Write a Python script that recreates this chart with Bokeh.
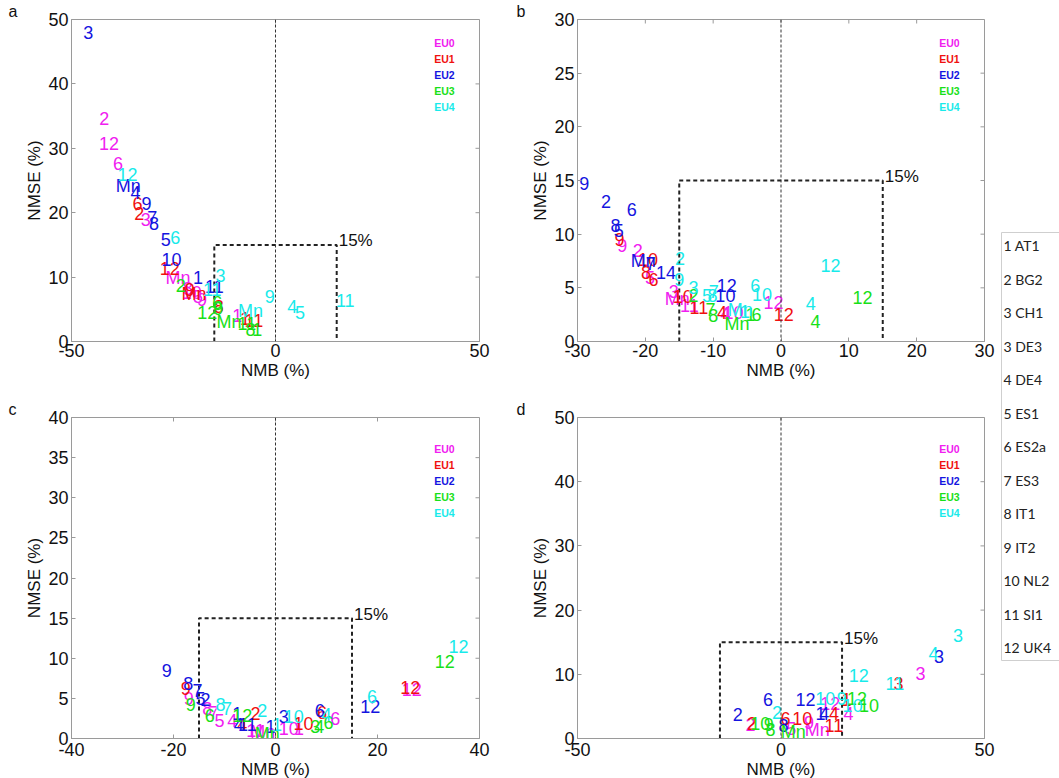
from bokeh.plotting import figure
from bokeh.models import ColumnDataSource, Range1d, FixedTicker, Span
from bokeh.layouts import row, column
from bokeh.embed import file_html
from bokeh.resources import INLINE
from bokeh.core.properties import value

MODELS = ["EU0", "EU1", "EU2", "EU3", "EU4"]
COLORS = ["#f020f0", "#f01010", "#1414e0", "#18e018", "#18eaea"]
STATIONS = ["1 AT1", "2 BG2", "3 CH1", "3 DE3", "4 DE4", "5 ES1", "6 ES2a",
            "7 ES3", "8 IT1", "9 IT2", "10 NL2", "11 SI1", "12 UK4"]
THRESH = 15

# ---------------- panel a ----------------
a_lab = ["2", "12", "6", "3", "Mn", "10", "8", "5", "9", "1",
         "6", "2", "12", "9", "Mn", "8", "1", "11",
         "3", "Mn", "4", "9", "7", "8", "5", "10", "1", "11",
         "2", "9", "6", "12", "Mn", "11", "8", "1",
         "12", "6", "11", "3", "Mn", "9", "4", "5", "11"]
a_mod = [0]*10 + [1]*8 + [2]*10 + [3]*8 + [4]*9
a_x = [-42.0, -40.8, -38.6, -31.8, -23.9, -20.5, -21.5, -19.0, -18.0, -9.4,
       -33.8, -33.4, -25.9, -21.0, -20.0, -13.9, -7.5, -5.3,
       -45.9, -36.1, -34.3, -31.6, -30.2, -29.8, -26.9, -25.5, -19.0, -15.0,
       -23.2, -14.0, -14.3, -16.7, -11.4, -7.0, -6.1, -4.5,
       -36.3, -24.6, -15.5, -13.5, -6.1, -1.4, 4.1, 6.0, 17.1]
a_y = [34.6, 30.7, 27.7, 19.0, 9.9, 7.6, 8.3, 7.0, 6.5, 4.0,
       21.4, 19.8, 11.3, 8.0, 7.4, 5.5, 3.5, 3.2,
       48.0, 24.2, 23.2, 21.5, 19.3, 18.4, 15.8, 12.8, 10.0, 8.5,
       8.7, 5.2, 6.1, 4.5, 3.0, 2.8, 1.9, 1.9,
       25.9, 16.1, 8.1, 10.2, 4.8, 6.95, 5.5, 4.5, 6.3]

# ---------------- panel b ----------------
b_lab = ["9", "2", "5", "3", "Mn", "11", "4", "10", "12",
         "9", "10", "8", "6", "10", "11", "4", "12",
         "9", "2", "6", "8", "5", "Mn", "7", "1", "4", "12", "10",
         "2", "7", "8", "Mn", "1", "6", "4", "12",
         "2", "9", "3", "5", "8", "7", "Mn", "1", "6", "10", "4", "12"]
b_mod = [0]*9 + [1]*8 + [2]*11 + [3]*8 + [4]*12
b_x = [-23.4, -21.1, -19.3, -15.8, -15.3, -13.5, -8.2, -7.0, -1.1,
       -23.8, -19.6, -19.9, -18.8, -14.5, -12.1, -8.7, 0.4,
       -29.0, -25.8, -22.0, -24.4, -23.9, -20.3, -19.2, -17.7, -16.2, -8.0, -8.2,
       -12.9, -10.4, -10.0, -6.5, -4.5, -3.6, 5.1, 12.0,
       -14.9, -15.0, -12.9, -10.9, -10.1, -9.9, -6.0, -5.3, -3.8, -2.8, 4.4, 7.3]
b_y = [8.9, 8.5, 6.0, 4.7, 3.95, 3.4, 2.6, 2.7, 3.6,
       9.5, 7.6, 6.4, 5.8, 4.2, 3.2, 2.7, 2.55,
       14.7, 13.0, 12.3, 10.8, 10.3, 7.5, 7.3, 6.4, 6.4, 5.2, 4.3,
       4.3, 3.0, 2.4, 1.6, 2.55, 2.55, 1.9, 4.1,
       7.7, 5.8, 5.0, 4.3, 4.3, 4.7, 2.9, 2.8, 5.2, 4.4, 3.5, 7.1]

# ---------------- panel c ----------------
c_lab = ["9", "8", "7", "5", "4", "11", "Mn", "10", "1", "6", "12",
         "9", "4", "2", "10", "6", "12",
         "9", "8", "7", "5", "2", "1", "4", "11", "1", "3", "6", "12",
         "9", "6", "12", "Mn", "3", "4", "6", "12",
         "8", "7", "2", "1", "10", "4", "6", "12"]
c_mod = [0]*11 + [1]*6 + [2]*12 + [3]*8 + [4]*8
c_x = [-17.0, -13.4, -12.1, -11.0, -8.5, -3.9, -2.5, 2.6, 4.6, 11.7, 26.7,
       -17.6, -6.5, -3.9, 5.5, 9.1, 26.4,
       -21.3, -17.1, -15.3, -14.7, -13.7, -7.5, -7.2, -5.5, -1.0, 1.6, 8.7, 18.6,
       -16.6, -12.9, -6.5, -1.6, 7.8, 8.6, 10.4, 33.2,
       -10.8, -9.5, -2.6, 0.3, 3.6, 10.0, 18.9, 35.9]
c_y = [5.0, 3.7, 3.3, 2.3, 2.2, 1.0, 0.8, 1.2, 1.2, 2.5, 6.1,
       6.2, 1.8, 3.1, 1.9, 3.2, 6.4,
       8.5, 6.9, 6.0, 5.0, 4.9, 3.1, 1.8, 1.7, 1.5, 2.7, 3.5, 3.95,
       4.2, 2.9, 2.9, 0.6, 1.45, 1.5, 2.0, 9.6,
       4.2, 3.7, 3.5, 1.7, 2.7, 3.0, 5.2, 11.5]

# ---------------- panel d ----------------
d_lab = ["2", "5", "9", "Mn", "12", "4", "3",
         "2", "6", "10", "4", "11", "1", "3",
         "2", "6", "8", "12", "1", "4", "3",
         "10", "9", "8", "Mn", "12", "10",
         "2", "10", "9", "10", "12", "11", "4", "3"]
d_mod = [0]*7 + [1]*7 + [2]*7 + [3]*6 + [4]*8
d_x = [-7.5, 2.5, 6.9, 8.9, 12.1, 16.6, 34.3,
       -7.1, 1.1, 5.2, 13.0, 13.0, 16.1, 28.9,
       -10.6, -3.2, 0.6, 6.0, 9.7, 10.6, 38.8,
       -5.1, -3.0, -2.6, 3.0, 18.7, 21.6,
       -1.0, 10.9, 14.9, 17.6, 19.1, 28.0, 37.5, 43.5]
d_y = [2.2, 1.5, 2.5, 1.3, 5.4, 3.9, 10.2,
       2.4, 3.1, 3.1, 3.9, 2.1, 6.0, 8.5,
       3.7, 6.1, 2.0, 6.1, 3.9, 3.9, 12.8,
       2.3, 2.2, 1.4, 1.0, 6.2, 5.2,
       4.0, 6.2, 6.3, 5.2, 9.8, 8.5, 13.3, 16.1]

a_xticks, a_yticks = [-50, 0, 50], [0, 10, 20, 30, 40, 50]
b_xticks, b_yticks = [-30, -20, -10, 0, 10, 20, 30], [0, 5, 10, 15, 20, 25, 30]
c_xticks, c_yticks = [-40, -20, 0, 20, 40], [0, 5, 10, 15, 20, 25, 30, 35, 40]
d_xticks, d_yticks = [-50, 0, 50], [0, 10, 20, 30, 40, 50]

FONT = "Liberation Sans"
AX_COL = "#9a9a9a"


def make_panel(letter, lab, mod, xs, ys, xt, yt, fw, fh, bl, br, bt, bb, top_row):
    xr = (xt[0], xt[-1])
    yr = (yt[0], yt[-1])
    p = figure(frame_width=fw, frame_height=fh,
               x_range=Range1d(*xr), y_range=Range1d(*yr),
               output_backend="svg", toolbar_location=None,
               min_border_left=bl, min_border_right=br,
               min_border_top=bt, min_border_bottom=bb,
               background_fill_color="white", border_fill_color="white")
    p.xgrid.visible = False
    p.ygrid.visible = False
    p.outline_line_color = AX_COL
    for ax, ticks in ((p.xaxis[0], xt), (p.yaxis[0], yt)):
        ax.ticker = FixedTicker(ticks=ticks)
        ax.major_label_overrides = {t: str(t) for t in ticks}
        ax.major_tick_in = 4
        ax.major_tick_out = 0
        ax.minor_tick_line_color = None
        ax.axis_line_color = AX_COL
        ax.major_tick_line_color = AX_COL
        ax.major_label_text_font = FONT
        ax.major_label_text_font_size = "18px"
        ax.major_label_text_color = "#111111"
        ax.axis_label_text_font = FONT
        ax.axis_label_text_font_size = "17px"
        ax.axis_label_text_font_style = "normal"
        ax.axis_label_text_color = "#111111"
        ax.axis_label_standoff = 1
    p.xaxis.axis_label = "NMB (%)"
    p.yaxis.axis_label = "NMSE (%)"
    p.xaxis.major_label_standoff = 2 if top_row else 4
    p.yaxis.major_label_standoff = 3

    dx = (xr[1] - xr[0]) / fw
    dy = (yr[1] - yr[0]) / fh
    # inward tick marks on the top and right edges of the box
    p.segment(x0=xt, y0=[yr[1]] * len(xt), x1=xt, y1=[yr[1] - 4 * dy] * len(xt),
              line_color=AX_COL, line_width=1)
    p.segment(x0=[xr[1]] * len(yt), y0=yt, x1=[xr[1] - 4 * dx] * len(yt), y1=yt,
              line_color=AX_COL, line_width=1)

    # zero line and 15 % box
    p.add_layout(Span(location=0, dimension="height", line_color="#333333",
                      line_dash="3 2", line_width=1))
    p.line([-THRESH, -THRESH, THRESH, THRESH], [0, THRESH, THRESH, 0],
           line_color="#222222", line_dash="4 3", line_width=2)
    p.text(x=[THRESH], y=[THRESH], text=["15%"], text_font=value(FONT),
           text_font_size="17px", text_color="#111111", text_align="left",
           text_baseline="middle", x_offset=2, y_offset=-4)

    # data labels
    src = ColumnDataSource(dict(x=xs, y=ys, lab=lab,
                                color=[COLORS[m] for m in mod]))
    p.text(x="x", y="y", text="lab", source=src, text_color="color",
           text_font=value(FONT), text_font_size="18px",
           text_align="center", text_baseline="middle")

    # model legend
    off = 23 if top_row else 31
    lx = [xr[1] - 35 * dx] * len(MODELS)
    ly = [yr[1] - (off + 16 * i) * dy for i in range(len(MODELS))]
    p.text(x=lx, y=ly, text=MODELS, text_color=COLORS, text_font=value(FONT),
           text_font_size="10.5px", text_font_style="bold",
           text_align="center", text_baseline="middle")

    # panel letter as a left-aligned title shifted into the left border
    p.title.text = letter
    p.title.align = "left"
    p.title.offset = -(bl - 8)
    p.title.text_font = FONT
    p.title.text_font_size = "16px"
    p.title.text_font_style = "normal"
    p.title.text_color = "#111111"
    p.title.standoff = 0
    return p


pa = make_panel("a", a_lab, a_mod, a_x, a_y, a_xticks, a_yticks, 408, 322, 71, 29, 19, 57, True)
pb = make_panel("b", b_lab, b_mod, b_x, b_y, b_xticks, b_yticks, 407, 322, 69, 14, 19, 57, True)
pc = make_panel("c", c_lab, c_mod, c_x, c_y, c_xticks, c_yticks, 408, 321, 71, 29, 16, 35, False)
pd = make_panel("d", d_lab, d_mod, d_x, d_y, d_xticks, d_yticks, 407, 321, 69, 14, 16, 35, False)

# station key
LH = 775
lf = figure(frame_width=61, frame_height=LH, x_range=Range1d(0, 61),
            y_range=Range1d(LH, 0), output_backend="svg", toolbar_location=None,
            min_border=0, outline_line_color=None)
lf.axis.visible = False
lf.xgrid.visible = False
lf.ygrid.visible = False
lf.quad(left=3, right=90, top=232, bottom=660, fill_color=None,
        line_color="#cfcfcf", line_width=1)
step = (647 - 245) / (len(STATIONS) - 1)
lf.text(x=[5] * len(STATIONS), y=[245 + i * step for i in range(len(STATIONS))],
        text=STATIONS, text_font=value("Lato"), text_font_size="14px",
        text_color="#222222", text_align="left", text_baseline="middle")

layout = row(column(pa, pc), column(pb, pd), lf)
open("out.html", "w").write(file_html(layout, INLINE))
